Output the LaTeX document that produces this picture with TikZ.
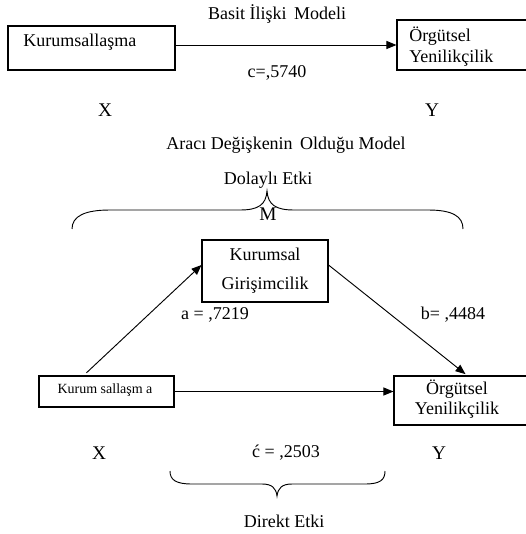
\documentclass[tikz,border=0pt]{standalone}
\usepackage{fontspec}
\setmainfont{Liberation Serif}
\usetikzlibrary{arrows.meta}
\begin{document}
\begin{tikzpicture}[x=0.75pt,y=-0.75pt,
  box/.style={draw, line width=0.8pt, inner sep=0pt},
  lbl/.style={font=\fontsize{13.5}{15}\selectfont, inner sep=0pt},
  big/.style={font=\fontsize{14.5}{16}\selectfont},
  arr/.style={line width=0.7pt, -{Triangle[length=7.5pt,width=6pt]}},
  brc/.style={line width=0.7pt}]
\useasboundingbox (0,0) rectangle (525,534);
% --- simple model ---
\node[lbl] (t1) at (277,14) {Basit İlişki\, Modeli};
\node[box, minimum width=167*0.75pt, minimum height=44*0.75pt] (b1) at (91.5,48) {};
\node[lbl, anchor=west] (b1t) at (23,42) {Kurumsallaşma};
\node[box, minimum width=132*0.75pt, minimum height=50*0.75pt] (b2) at (463,45) {};
\node[lbl, anchor=north west, align=left, font=\fontsize{13.5}{15.75}\selectfont] (b2t) at (409,27) {Örgütsel\\Yenilikçilik};
\draw[arr] (b1.east |- b2.west) -- (b2.west);
\node[lbl] (c1) at (277,73) {c=,5740};
\node[lbl, big] (x1) at (105,110) {X};
\node[lbl, big] (y1) at (432,110) {Y};
% --- mediation model ---
\node[lbl] (t2) at (286,145) {Aracı Değişkenin\, Olduğu Model};
\node[lbl] (t3) at (268,180) {Dolaylı Etki};
\draw[brc] (72,229) .. controls (72,216) and (85,210) .. (110,210) -- (240,210)
  .. controls (258,210) and (266,205) .. (267,191)
  .. controls (268,205) and (276,210) .. (294,210) -- (428,210)
  .. controls (452,210) and (463,216) .. (463,229);
\node[lbl, big] (mlab) at (268,214) {M};
\node[box, minimum width=126*0.75pt, minimum height=62*0.75pt] (m) at (265,271) {};
\node[lbl] (mt1) at (265,254) {Kurumsal};
\node[lbl] (mt2) at (265,285) {Girişimcilik};
\node[box, minimum width=135*0.75pt, minimum height=31*0.75pt] (xb) at (106.5,391.5) {};
\node[lbl, font=\fontsize{10.5}{12}\selectfont] (xbt) at (105,390) {Kurum sallaşm a};
\node[box, minimum width=135*0.75pt, minimum height=49*0.75pt] (yb) at (461.5,400.5) {};
\node[lbl, align=center, font=\fontsize{13.5}{14.5}\selectfont] (ybt) at (457,399) {Örgütsel\\Yenilikçilik};
\draw[arr] ([xshift=36pt,yshift=2pt]xb.north west) -- ([yshift=4.5pt]m.west);
\draw[arr] ([yshift=4.5pt]m.east) -- ([xshift=3pt,yshift=1pt]yb.north);
\draw[arr] (xb.east) -- (xb.east -| yb.west);
\node[lbl] (alab) at (215,315) {a = ,7219};
\node[lbl] (blab) at (453,315) {b= ,4484};
\node[lbl, big] (x2) at (99,453) {X};
\node[lbl, big] (y2) at (439,453) {Y};
\node[lbl] (clab) at (286,453) {ć = ,2503};
\draw[brc] (170,471) .. controls (170,480) and (176,484) .. (192,484) -- (262,484)
  .. controls (272,484) and (276,488) .. (277,496)
  .. controls (278,488) and (282,484) .. (292,484) -- (365,484)
  .. controls (380,484) and (385,480) .. (385,471);
\node[lbl] (dlab) at (284,521) {Direkt Etki};
\end{tikzpicture}
\end{document}
